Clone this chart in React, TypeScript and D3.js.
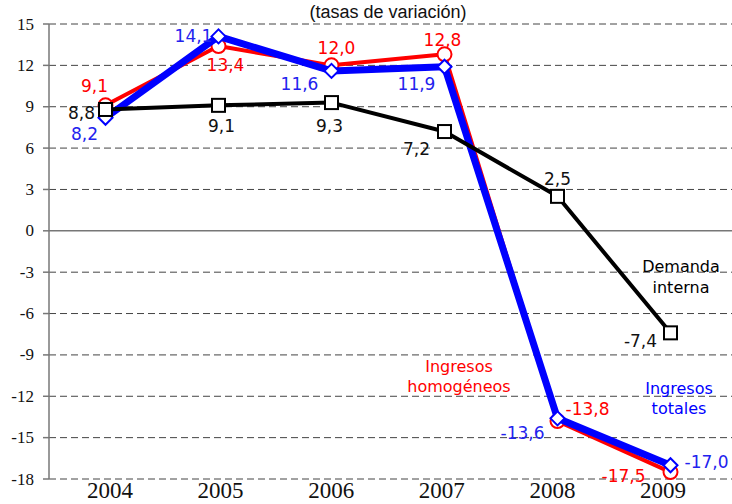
import React from 'react';
import * as d3 from 'd3';

const years = ['2004', '2005', '2006', '2007', '2008', '2009'];
const homogeneos = [9.1, 13.4, 12.0, 12.8, -13.8, -17.5];
const totales = [8.2, 14.1, 11.6, 11.9, -13.6, -17.0];
const demanda = [8.8, 9.1, 9.3, 7.2, 2.5, -7.4];
const yTicks = [15, 12, 9, 6, 3, 0, -3, -6, -9, -12, -15, -18];

// label offsets (dx, dy) from each point
const homOffsets = [[-11, -13], [7, 25], [5, -11], [-2, -8], [30, -6], [-47, 10]];
const totOffsets = [[-21, 22], [-25, 6], [-32, 19], [-28, 23], [-35, 21], [36, 3]];
const demOffsets = [[-24, 10], [3, 27], [-2, 29], [-28, 23], [0, -11], [-30, 14]];

const W = 732;
const H = 504;
const left = 49;
const right = 727;
const top = 24;
const bottom = 479;

const fmt = (v: number) => v.toFixed(1).replace('.', ',');
const labelFont = '"DejaVu Sans", Verdana, sans-serif';
const serif = '"Liberation Serif", "Times New Roman", serif';

export default function App() {
  const x = d3.scaleBand().domain(years).range([left, right]);
  const cx = (yr: string) => x(yr)! + x.bandwidth() / 2;
  const xLab = d3.scalePoint().domain(years).range([110, 663]);
  const y = d3.scaleLinear().domain([-18, 15]).range([bottom, top]);

  const line = d3.line<number>().x((_, i) => cx(years[i])).y(d => y(d));

  const RED = '#ff0000';
  const BLUE = '#0000ff';

  const labels = (vals: number[], offs: number[][], color: string) =>
    vals.map((v, i) => (
      <text key={i} x={cx(years[i]) + offs[i][0]} y={y(v) + offs[i][1]} textAnchor="middle"
        fontFamily={labelFont} fontSize={17} fill={color}>{fmt(v)}</text>
    ));

  return (
    <svg width={W} height={H} style={{ position: 'absolute', left: 0, top: 0, background: '#fff' }}>
      <text x={388} y={18} textAnchor="middle" fontFamily='"Liberation Sans", Arial, sans-serif' fontSize={18} fill="#111">
        (tasas de variación)
      </text>

      {/* grid */}
      {yTicks.map(t => (
        <line key={t} x1={left} x2={W} y1={y(t)} y2={y(t)}
          stroke={t === 0 ? '#777' : '#444'} strokeWidth={t === 0 ? 1.5 : 1}
          strokeDasharray={t === 0 ? undefined : '7,4'} />
      ))}
      {/* y axis */}
      <line x1={left} x2={left} y1={top} y2={bottom} stroke="#777" strokeWidth={1.5} />
      {yTicks.map(t => (
        <g key={'t' + t}>
          <line x1={left - 6} x2={left} y1={y(t)} y2={y(t)} stroke="#777" strokeWidth={1.5} />
          <text x={34} y={y(t) + 5.5} textAnchor="end" fontFamily={serif} fontSize={17} fill="#111">{t}</text>
        </g>
      ))}
      {years.map(yr => (
        <text key={yr} x={xLab(yr)} y={498} textAnchor="middle" fontFamily={serif} fontSize={23} fill="#111">{yr}</text>
      ))}

      {/* Ingresos homogéneos */}
      <path d={line(homogeneos)!} fill="none" stroke={RED} strokeWidth={4} strokeLinejoin="round" />
      {homogeneos.map((v, i) => (
        <circle key={i} cx={cx(years[i])} cy={y(v)} r={7} fill="#fff" stroke={RED} strokeWidth={2} />
      ))}

      {/* Ingresos totales */}
      <path d={line(totales)!} fill="none" stroke={BLUE} strokeWidth={7} strokeLinejoin="round" />
      {totales.map((v, i) => {
        const px = cx(years[i]);
        const py = y(v);
        const s = 7;
        return (
          <path key={i} d={`M${px},${py - s}L${px + s},${py}L${px},${py + s}L${px - s},${py}Z`}
            fill="#fff" stroke={BLUE} strokeWidth={2} />
        );
      })}

      {/* Demanda interna */}
      <path d={line(demanda)!} fill="none" stroke="#000" strokeWidth={4} strokeLinejoin="round" />
      {demanda.map((v, i) => (
        <rect key={i} x={cx(years[i]) - 6.5} y={y(v) - 6.5} width={13} height={13}
          fill="#fff" stroke="#000" strokeWidth={2} />
      ))}

      {labels(homogeneos, homOffsets, RED)}
      {labels(totales, totOffsets, '#2222ee')}
      {labels(demanda, demOffsets, '#111')}

      <g fontFamily={labelFont} fontSize={16} textAnchor="middle">
        <text x={681} y={272} fill="#000">Demanda</text>
        <text x={681} y={293} fill="#000">interna</text>
        <text x={459} y={372} fill={RED}>Ingresos</text>
        <text x={459} y={392} fill={RED}>homogéneos</text>
        <text x={679} y={394} fill={BLUE}>Ingresos</text>
        <text x={679} y={414} fill={BLUE}>totales</text>
      </g>
    </svg>
  );
}
